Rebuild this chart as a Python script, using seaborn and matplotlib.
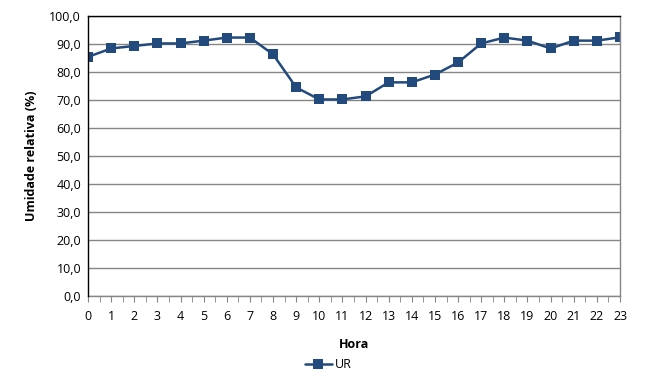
import matplotlib
matplotlib.use("Agg")
import matplotlib.pyplot as plt
import seaborn as sns
import pandas as pd
import numpy as np
from matplotlib.ticker import FuncFormatter, MultipleLocator

hours = list(range(24))
ur = [85.4, 88.4, 89.3, 90.2, 90.2, 91.2, 92.3, 92.3, 86.3, 74.5, 70.2, 70.2,
      71.3, 76.3, 76.3, 79.1, 83.4, 90.2, 92.3, 91.2, 88.4, 91.2, 91.2, 92.4]
series_name = "UR"

df = pd.DataFrame({"Hora": hours, "UR": ur, "serie": series_name})

sns.set_style("white")
plt.rcParams['font.family'] = ['Open Sans', 'DejaVu Sans']
plt.rcParams['text.color'] = 'black'
plt.rcParams['xtick.color'] = 'black'
plt.rcParams['ytick.color'] = 'black'
plt.rcParams['axes.labelcolor'] = 'black'

fig = plt.figure(figsize=(6.66, 3.88), dpi=100)
ax = fig.add_axes([88/666, 1-296/388, (620-88)/666, (296-16)/388])

color = "#234A7C"
sns.lineplot(data=df, x="Hora", y="UR", hue="serie", palette=[color], marker="s",
             markersize=6.5, markeredgewidth=0, linewidth=1.8, ax=ax, legend=True)

ax.set_xlim(0, 23)
ax.set_ylim(0, 100)
ax.yaxis.set_major_locator(MultipleLocator(10))
ax.yaxis.set_major_formatter(FuncFormatter(lambda v, p: f"{v:.1f}".replace(".", ",")))
ax.set_xticks(hours)
ax.set_xticks(np.arange(0.5, 23, 1), minor=True)
ax.grid(axis="y", color="#868686", linewidth=1)
ax.set_axisbelow(True)

for s in ["left", "top"]:
    ax.spines[s].set_color("black")
    ax.spines[s].set_linewidth(1)
for s in ["right", "bottom"]:
    ax.spines[s].set_color("#868686")
    ax.spines[s].set_linewidth(1)
ax.spines["left"].set_zorder(5)

ax.tick_params(axis="x", which="both", direction="out", length=4, color="#868686",
               labelsize=9, pad=6, bottom=True, labelcolor="black")
ax.tick_params(axis="y", length=0, labelsize=9, pad=5, labelcolor="black")

ax.set_xlabel("Hora", fontsize=9, fontweight="bold", labelpad=11)
ax.set_ylabel("Umidade relativa (%)", fontsize=9, fontweight="bold", labelpad=8)

handles, labels = ax.get_legend_handles_labels()
ax.get_legend().remove()
fig.legend(handles, labels, loc="center", bbox_to_anchor=(328/666, 1-365/388),
           frameon=False, fontsize=9, handlelength=2.2, handletextpad=0.2)

fig.savefig("out.png", dpi=100)
